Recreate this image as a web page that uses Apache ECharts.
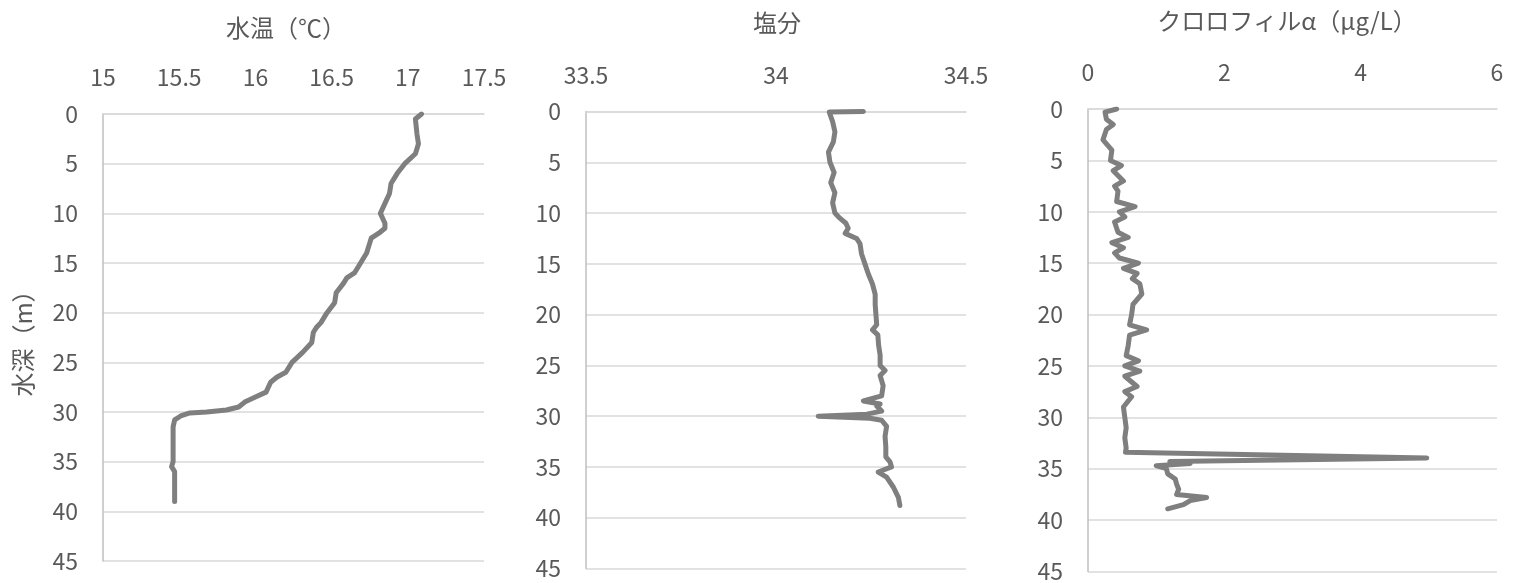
<!DOCTYPE html>
<html>
<head>
<meta charset="utf-8">
<title>水温・塩分・クロロフィル</title>
<script src="https://cdn.jsdelivr.net/npm/echarts@6/dist/echarts.min.js"></script>
<style>
  html, body { margin: 0; padding: 0; background: #fff; }
  #main { width: 1522px; height: 583px; }
</style>
</head>
<body>
<div id="main"></div>
<script>
// --- 観測データ（グラフから読み取り） ---
// 水温
var tempDepth = [0, 0.5, 2, 3, 4, 5, 6, 7, 8, 9, 10, 11, 11.5, 12, 12.5, 13, 14, 15, 16, 16.5,
                 17, 18, 19, 20, 21, 21.5, 22, 23, 24, 25, 26, 26.5, 27, 28, 28.5, 29, 29.5, 29.8,
                 30, 30.1, 30.4, 30.8, 31.5, 35, 35.5, 36, 37, 39];
var tempValue = [17.09, 17.05, 17.06, 17.07, 17.05, 16.98, 16.93, 16.89, 16.88, 16.85, 16.82, 16.85, 16.85, 16.81, 16.76, 16.75, 16.73, 16.69, 16.65, 16.60,
                 16.58, 16.53, 16.52, 16.47, 16.43, 16.40, 16.38, 16.37, 16.31, 16.24, 16.20, 16.14, 16.10, 16.07, 16.00, 15.93, 15.89, 15.81,
                 15.68, 15.57, 15.51, 15.47, 15.46, 15.46, 15.45, 15.47, 15.47, 15.47];

// 塩分
var salDepth = [0, 0.05, 1, 2, 3, 4, 5, 6, 7, 8, 9, 10, 10.5, 11, 11.5, 12, 12.5, 13, 14, 15,
                16, 17, 18, 19, 20, 21, 21.5, 22, 23, 24, 25, 25.5, 26, 27, 28, 28.5, 28.8, 29,
                29.5, 29.8, 30, 30.2, 30.4, 31, 32, 33, 34, 34.5, 35, 35.5, 36, 37, 38, 38.8];
var salValue = [34.23, 34.14, 34.149, 34.155, 34.151, 34.138, 34.142, 34.153, 34.144, 34.155, 34.149, 34.155, 34.168, 34.184, 34.19, 34.182, 34.212, 34.221, 34.225, 34.234,
                34.243, 34.254, 34.261, 34.261, 34.263, 34.265, 34.254, 34.268, 34.27, 34.274, 34.274, 34.287, 34.274, 34.282, 34.278, 34.23, 34.274, 34.265,
                34.278, 34.239, 34.111, 34.247, 34.278, 34.291, 34.287, 34.289, 34.289, 34.3, 34.304, 34.269, 34.291, 34.309, 34.322, 34.326];

// クロロフィルα
var chlDepth = [0, 0.3, 1, 1.5, 2, 3, 4, 5, 5.5, 6, 7, 7.5, 8, 9, 9.5, 10, 10.5, 11, 12, 12.5,
                13, 13.5, 14, 14.5, 15, 15.5, 16, 16.5, 17, 18, 19, 20, 21, 21.5, 22, 23, 24, 24.5,
                25, 25.5, 26, 27, 27.5, 28, 29, 30, 31, 32, 33, 33.4, 33.95, 34.3, 34.5, 34.7,
                35, 35.5, 36, 36.5, 37, 37.5, 37.8, 38.1, 38.5, 38.9];
var chlValue = [0.42, 0.25, 0.27, 0.37, 0.27, 0.22, 0.35, 0.33, 0.49, 0.37, 0.52, 0.39, 0.44, 0.42, 0.69, 0.46, 0.54, 0.39, 0.44, 0.59,
                0.35, 0.52, 0.39, 0.46, 0.74, 0.52, 0.72, 0.65, 0.76, 0.79, 0.66, 0.64, 0.61, 0.86, 0.61, 0.59, 0.56, 0.74,
                0.54, 0.76, 0.54, 0.72, 0.54, 0.64, 0.52, 0.54, 0.56, 0.54, 0.56, 0.55, 4.97, 1.2, 1.5, 1.0,
                1.15, 1.17, 1.28, 1.3, 1.33, 1.3, 1.74, 1.5, 1.4, 1.17];

var depthTicks = { min: 0, max: 45, interval: 5 };

function pairs(vals, depths) {
    return vals.map(function (v, i) { return [v, depths[i]]; });
}

var FONT = '"Noto Sans CJK JP", "Noto Sans", sans-serif';
var TEXT = '#595959';

function xAxisOf(idx, min, max, interval) {
    return {
        type: 'value', gridIndex: idx, position: 'top',
        min: min, max: max, interval: interval,
        axisLine: { show: true, onZero: false, lineStyle: { color: '#d9d9d9', width: 1.5 } },
        axisTick: { show: false },
        splitLine: { show: false },
        axisLabel: { margin: 25, color: TEXT, fontSize: 23, fontFamily: FONT }
    };
}
function yAxisOf(idx, withName) {
    var ax = {
        type: 'value', gridIndex: idx, inverse: true,
        min: depthTicks.min, max: depthTicks.max, interval: depthTicks.interval,
        axisLine: { show: true, onZero: false, lineStyle: { color: '#bfbfbf', width: 1.5 } },
        axisTick: { show: false },
        splitLine: { show: true, lineStyle: { color: '#d9d9d9', width: 1.5 } },
        axisLabel: { margin: 25, color: TEXT, fontSize: 23, fontFamily: FONT }
    };
    if (withName) {
        ax.name = '水深（m）';
        ax.nameLocation = 'middle';
        ax.nameGap = 68;
        ax.nameTextStyle = { color: TEXT, fontSize: 24, fontFamily: FONT };
    }
    return ax;
}
function profile(idx, vals, depths) {
    return {
        type: 'line', xAxisIndex: idx, yAxisIndex: idx,
        data: pairs(vals, depths),
        showSymbol: false, silent: true, animation: false,
        lineStyle: { color: '#7f7f7f', width: 5, cap: 'round', join: 'round' }
    };
}

var titleStyle = { color: TEXT, fontSize: 24, fontWeight: 'normal', fontFamily: FONT };

var myChart = echarts.init(document.getElementById('main'), null, { renderer: 'canvas' });
var option = {
    animation: false,
    title: [
        { text: '水温（℃）', left: 286, top: 16, textAlign: 'center', padding: 0, textStyle: titleStyle },
        { text: '塩分', left: 777, top: 11, textAlign: 'center', padding: 0, textStyle: titleStyle },
        { text: 'クロロフィルα（μg/L）', left: 1287, top: 9, textAlign: 'center', padding: 0, textStyle: titleStyle }
    ],
    grid: [
        { left: 103, top: 114, width: 381, height: 447 },
        { left: 586, top: 111.5, width: 380, height: 457 },
        { left: 1088, top: 109, width: 409, height: 464 }
    ],
    xAxis: [
        xAxisOf(0, 15, 17.5, 0.5),
        xAxisOf(1, 33.5, 34.5, 0.5),
        xAxisOf(2, 0, 6, 2)
    ],
    yAxis: [yAxisOf(0, true), yAxisOf(1, false), yAxisOf(2, false)],
    series: [
        profile(0, tempValue, tempDepth),
        profile(1, salValue, salDepth),
        profile(2, chlValue, chlDepth)
    ]
};
myChart.setOption(option);
</script>
</body>
</html>
